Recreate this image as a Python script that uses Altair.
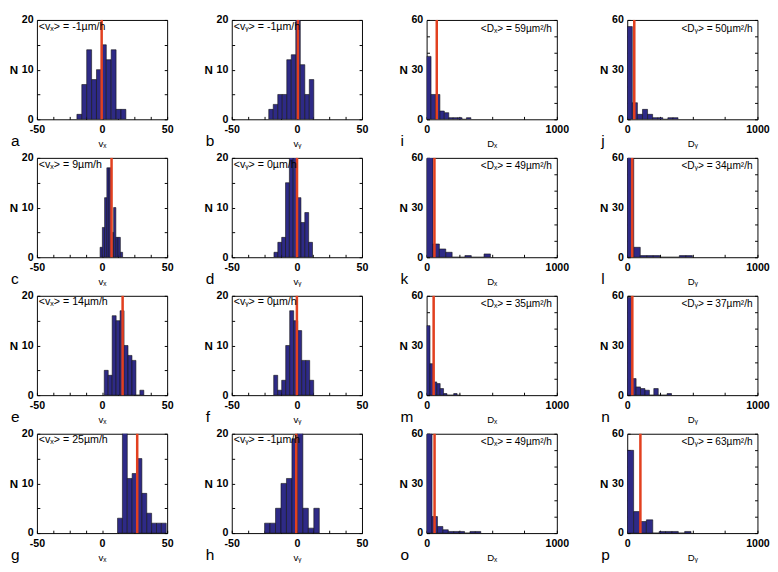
import altair as alt
import pandas as pd

# grid layout of panels (rows x columns) and the quantity shown in each column
letters = [["a", "b", "i", "j"],
           ["c", "d", "k", "l"],
           ["e", "f", "m", "n"],
           ["g", "h", "o", "p"]]
kinds = ["vx", "vy", "Dx", "Dy"]

# histogram bins: first bin edge, bin width, counts
bin_start = {"a": -19.3, "b": -21.6, "i": 0, "j": 0,
             "c": -1.5, "d": -17.6, "k": 0, "l": 0,
             "e": 1.7, "f": -17.8, "m": 0, "n": 0,
             "g": 11.9, "h": -24.8, "o": 0, "p": 0}
bin_width = {"a": 3.76, "b": 3.46, "i": 34, "j": 39,
             "c": 1.73, "d": 2.96, "k": 49, "l": 50,
             "e": 3.04, "f": 3.07, "m": 26, "n": 34,
             "g": 3.74, "h": 4.2, "o": 41.6, "p": 49}
counts = {
    "a": [1, 7, 14, 8, 10, 15, 12, 14, 2, 2],
    "b": [2, 3, 5, 5, 12, 13, 24, 11, 5, 8],
    "i": [38, 15, 15, 5, 4, 1, 1, 1, 0, 1],
    "j": [56, 10, 3, 6, 3, 1, 1, 0, 1, 1],
    "c": [2, 6, 12, 18, 18, 5, 10, 4, 4, 1],
    "d": [1, 3, 4, 15, 24, 22, 12, 7, 9, 3],
    "k": [80, 8, 5, 3, 0, 0, 1, 0, 0, 2],
    "l": [80, 6, 1, 1, 1, 0, 0, 0, 1, 1],
    "e": [5, 4, 16, 15, 17, 10, 8, 7, 0, 1],
    "f": [4, 1, 3, 10, 17, 15, 13, 7, 7, 3],
    "m": [42, 19, 8, 7, 4, 1, 0, 0, 1, 0],
    "n": [59, 10, 5, 4, 3, 0, 4, 0, 0, 1],
    "g": [3, 22, 11, 12, 15, 8, 4, 2, 2, 2],
    "h": [2, 2, 5, 10, 11, 19, 22, 5, 1, 5],
    "o": [60, 10, 4, 2, 1, 1, 1, 0, 1, 1],
    "p": [50, 13, 7, 8, 0, 1, 1, 1, 0, 1],
}
# red marker line positions and the mean values printed in each panel
line_pos = {"a": -0.3, "b": 0.8, "i": 78, "j": 54,
            "c": 7.3, "d": 0.1, "k": 60, "l": 38,
            "e": 15.8, "f": 0, "m": 54, "n": 39,
            "g": 27, "h": -0.5, "o": 61, "p": 101}
mean_val = {"a": "-1", "b": "-1", "i": "59", "j": "50",
            "c": "9", "d": "0", "k": "49", "l": "34",
            "e": "14", "f": "0", "m": "35", "n": "37",
            "g": "25", "h": "-1", "o": "49", "p": "63"}

v_ticks = [-50, -37.5, -25, -12.5, 0, 12.5, 25, 37.5, 50]
v_labels = [-50, 0, 50]
v_yticks = [0, 5, 10, 15, 20]
v_ylabels = [0, 10, 20]
d_ticks = [0, 250, 500, 750, 1000]
d_labels = [0, 1000]
d_yticks = [0, 10, 20, 30, 40, 50, 60]
d_ylabels = [0, 30, 60]

titles = {"vx": "vₓ", "vy": "vᵧ", "Dx": "Dₓ", "Dy": "Dᵧ"}
ann = {"vx": "<vₓ> = {}µm/h", "vy": "<vᵧ> = {}µm/h",
       "Dx": "<Dₓ> = {}µm²/h", "Dy": "<Dᵧ> = {}µm²/h"}

W, H = 135, 103
FONT = "Liberation Sans"
BAR = "#2e2a86"
RED = "#e2401f"


def label_expr(vals):
    cond = " || ".join(f"datum.value == {v}" for v in vals)
    return f"({cond}) ? toString(datum.value) : ''"


def panel(letter, kind):
    is_v = kind.startswith("v")
    xdom = [-50, 50] if is_v else [0, 1000]
    ydom = [0, 20] if is_v else [0, 60]
    xt, xl = (v_ticks, v_labels) if is_v else (d_ticks, d_labels)
    yt, yl = (v_yticks, v_ylabels) if is_v else (d_yticks, d_ylabels)
    c = counts[letter]
    s, w = bin_start[letter], bin_width[letter]
    df = pd.DataFrame({
        "x0": [s + k * w for k in range(len(c))],
        "x1": [s + (k + 1) * w for k in range(len(c))],
        "n": c,
    })
    xs = alt.Scale(domain=xdom, nice=False, zero=False)
    ys = alt.Scale(domain=ydom, nice=False)

    bars = alt.Chart(df).mark_bar(
        color=BAR, stroke="#111111", strokeWidth=0.6, clip=True
    ).encode(
        x=alt.X("x0:Q", scale=xs, axis=alt.Axis(
            orient="bottom", values=xt, labelExpr=label_expr(xl),
            offset=-3, tickSize=3, tickColor="black", domain=False, grid=False,
            labelFlush=False, labelPadding=5, labelFontSize=11, labelFontWeight="bold",
            labelColor="black", labelFont=FONT,
            title=titles[kind], titleFont=FONT, titleFontSize=10,
            titleFontWeight="normal", titleColor="black",
            titleY=28, titleBaseline="middle")),
        x2="x1:Q",
        y=alt.Y("n:Q", scale=ys, axis=alt.Axis(
            orient="left", values=yt, labelExpr=label_expr(yl),
            offset=-3, tickSize=3, tickColor="black", domain=False, grid=False,
            labelPadding=4, labelFontSize=11, labelFontWeight="bold",
            labelColor="black", labelFont=FONT,
            title="N", titleAngle=0, titleAlign="right", titleBaseline="middle",
            titleX=-23, titleY=H / 2, titleFont=FONT, titleFontSize=12,
            titleFontWeight="bold", titleColor="black")),
        y2=alt.datum(0),
    )

    frame = alt.Chart(df).mark_point(opacity=0, clip=True).encode(
        x=alt.X("x0:Q", scale=xs, axis=None),
        y=alt.Y("n:Q", scale=ys, axis=alt.Axis(
            orient="right", values=yt, labels=False, offset=-3, tickSize=3,
            tickColor="black", domain=False, grid=False, title=None)),
    )

    rule = alt.Chart(pd.DataFrame({"m": [line_pos[letter]]})).mark_rule(
        color=RED, strokeWidth=2.6
    ).encode(x=alt.X("m:Q", scale=xs, axis=None))

    txt = ann[kind].format(mean_val[letter])
    if is_v:
        note = alt.Chart(pd.DataFrame({"t": [txt]})).mark_text(
            align="left", baseline="middle", font=FONT, fontSize=11, color="black"
        ).encode(x=alt.value(2), y=alt.value(7), text="t:N")
    else:
        note = alt.Chart(pd.DataFrame({"t": [txt]})).mark_text(
            align="right", baseline="middle", font=FONT, fontSize=10.5, color="black"
        ).encode(x=alt.value(W - 5), y=alt.value(9), text="t:N")

    let = alt.Chart(pd.DataFrame({"t": [letter]})).mark_text(
        align="left", baseline="middle", font=FONT, fontSize=16, color="black"
    ).encode(x=alt.value(-27), y=alt.value(H + 23), text="t:N")

    return alt.layer(bars, frame, rule, note, let).resolve_axis(
        x="independent", y="independent"
    ).properties(width=W, height=H)


rows = []
for r in range(4):
    rows.append(alt.hconcat(*[panel(letters[r][c], kinds[c]) for c in range(4)],
                            spacing=30))

chart = alt.vconcat(*rows, spacing=1).properties(
    padding={"top": -5, "left": 0, "right": 0, "bottom": 0}
).configure_view(stroke="black", strokeWidth=1)

chart.save("out.html", embed_options={"renderer": "svg", "actions": False})
